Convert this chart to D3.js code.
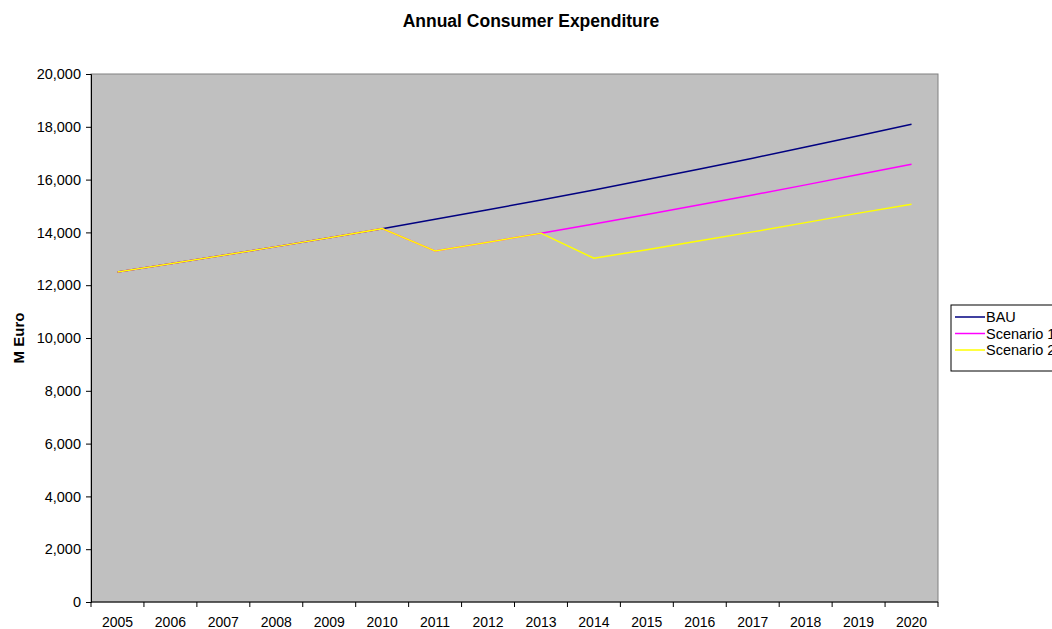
<!DOCTYPE html>
<html>
<head>
<meta charset="utf-8">
<script src="https://cdn.jsdelivr.net/npm/d3@7"></script>
<style>
  body { margin: 0; background: #fff; }
  svg text { font-family: "Liberation Sans", Arial, sans-serif; }
</style>
</head>
<body>
<div id="chart"></div>
<script>
// data
let years = ["2005", "2006", "2007", "2008", "2009", "2010", "2011", "2012",
    "2013", "2014", "2015", "2016", "2017", "2018", "2019", "2020"];
let bau = [12500, 12813, 13133, 13461, 13798, 14142, 14496, 14858,
    15230, 15610, 16001, 16401, 16811, 17231, 17662, 18100];
let scenario1 = [12500, 12813, 13133, 13461, 13798, 14142, 13300, 13630,
    13970, 14320, 14680, 15050, 15420, 15800, 16190, 16580];
let scenario2 = [12500, 12813, 13133, 13461, 13798, 14142, 13300, 13630,
    13970, 13020, 13345, 13680, 14020, 14370, 14730, 15070];
let yTicks = [0, 2000, 4000, 6000, 8000, 10000, 12000, 14000, 16000, 18000, 20000];

let series = [
    {name: "BAU", values: bau, color: "#000080"},
    {name: "Scenario 1", values: scenario1, color: "#FF00FF"},
    {name: "Scenario 2", values: scenario2, color: "#FFFF00"}
];

let width = 1052;
let height = 629;
let margin = {top: 74, right: 114, bottom: 27, left: 91};

let svg = d3.select("#chart")
    .append("svg")
    .attr("width", width)
    .attr("height", height);

let x = d3.scaleBand()
    .domain(years)
    .range([margin.left, width - margin.right]);

let y = d3.scaleLinear()
    .domain([0, 20000])
    .range([height - margin.bottom, margin.top]);

// plot area
svg.append("rect")
    .attr("x", margin.left)
    .attr("y", margin.top)
    .attr("width", width - margin.right - margin.left)
    .attr("height", height - margin.bottom - margin.top)
    .attr("fill", "#C0C0C0")
    .attr("stroke", "#808080")
    .attr("stroke-width", 1);

// x axis, labels sit between the tick marks
let xAxis = svg.append("g")
    .attr("transform", "translate(0," + (height - margin.bottom) + ")");
xAxis.append("line")
    .attr("x1", margin.left)
    .attr("x2", width - margin.right)
    .attr("stroke", "#000");
let bounds = years.map(d => x(d)).concat([width - margin.right]);
xAxis.selectAll(".tick")
    .data(bounds)
    .enter()
    .append("line")
    .attr("x1", d => d)
    .attr("x2", d => d)
    .attr("y1", 0)
    .attr("y2", 5)
    .attr("stroke", "#000");
xAxis.selectAll("text")
    .data(years)
    .enter()
    .append("text")
    .attr("x", d => x(d) + x.bandwidth() / 2)
    .attr("y", 25)
    .attr("text-anchor", "middle")
    .attr("font-size", 14)
    .text(d => d);

// y axis
let yAxis = svg.append("g")
    .attr("transform", "translate(" + margin.left + ",0)")
    .call(d3.axisLeft(y)
        .tickValues(yTicks)
        .tickSize(5)
        .tickPadding(5)
        .tickFormat(d3.format(",")));
yAxis.select(".domain").attr("stroke", "#000");
yAxis.selectAll("text")
    .attr("font-size", 14.5)
    .attr("font-family", "Liberation Sans, Arial, sans-serif")
    .attr("fill", "#000");

// lines
let line = d3.line()
    .x((d, i) => x(years[i]) + x.bandwidth() / 2)
    .y(d => y(d));

svg.selectAll(".series")
    .data(series)
    .enter()
    .append("path")
    .attr("class", "series")
    .attr("d", d => line(d.values))
    .attr("fill", "none")
    .attr("stroke", d => d.color)
    .attr("stroke-width", 1.5);

// title and axis label
svg.append("text")
    .attr("x", 531)
    .attr("y", 27)
    .attr("text-anchor", "middle")
    .attr("font-size", 17.5)
    .attr("font-weight", "bold")
    .text("Annual Consumer Expenditure");

svg.append("text")
    .attr("transform", "translate(24," + ((margin.top + height - margin.bottom) / 2) + ") rotate(-90)")
    .attr("text-anchor", "middle")
    .attr("font-size", 15)
    .attr("font-weight", "bold")
    .text("M Euro");

// legend
let legend = svg.append("g")
    .attr("transform", "translate(951,305)");
legend.append("rect")
    .attr("width", 120)
    .attr("height", 66)
    .attr("fill", "#fff")
    .attr("stroke", "#000");
let item = legend.selectAll(".item")
    .data(series)
    .enter()
    .append("g")
    .attr("transform", (d, i) => "translate(0," + (12 + i * 16.5) + ")");
item.append("line")
    .attr("x1", 4)
    .attr("x2", 34)
    .attr("stroke", d => d.color)
    .attr("stroke-width", 1.5);
item.append("text")
    .attr("x", 35)
    .attr("y", 5)
    .attr("font-size", 14.5)
    .text(d => d.name);
</script>
</body>
</html>
